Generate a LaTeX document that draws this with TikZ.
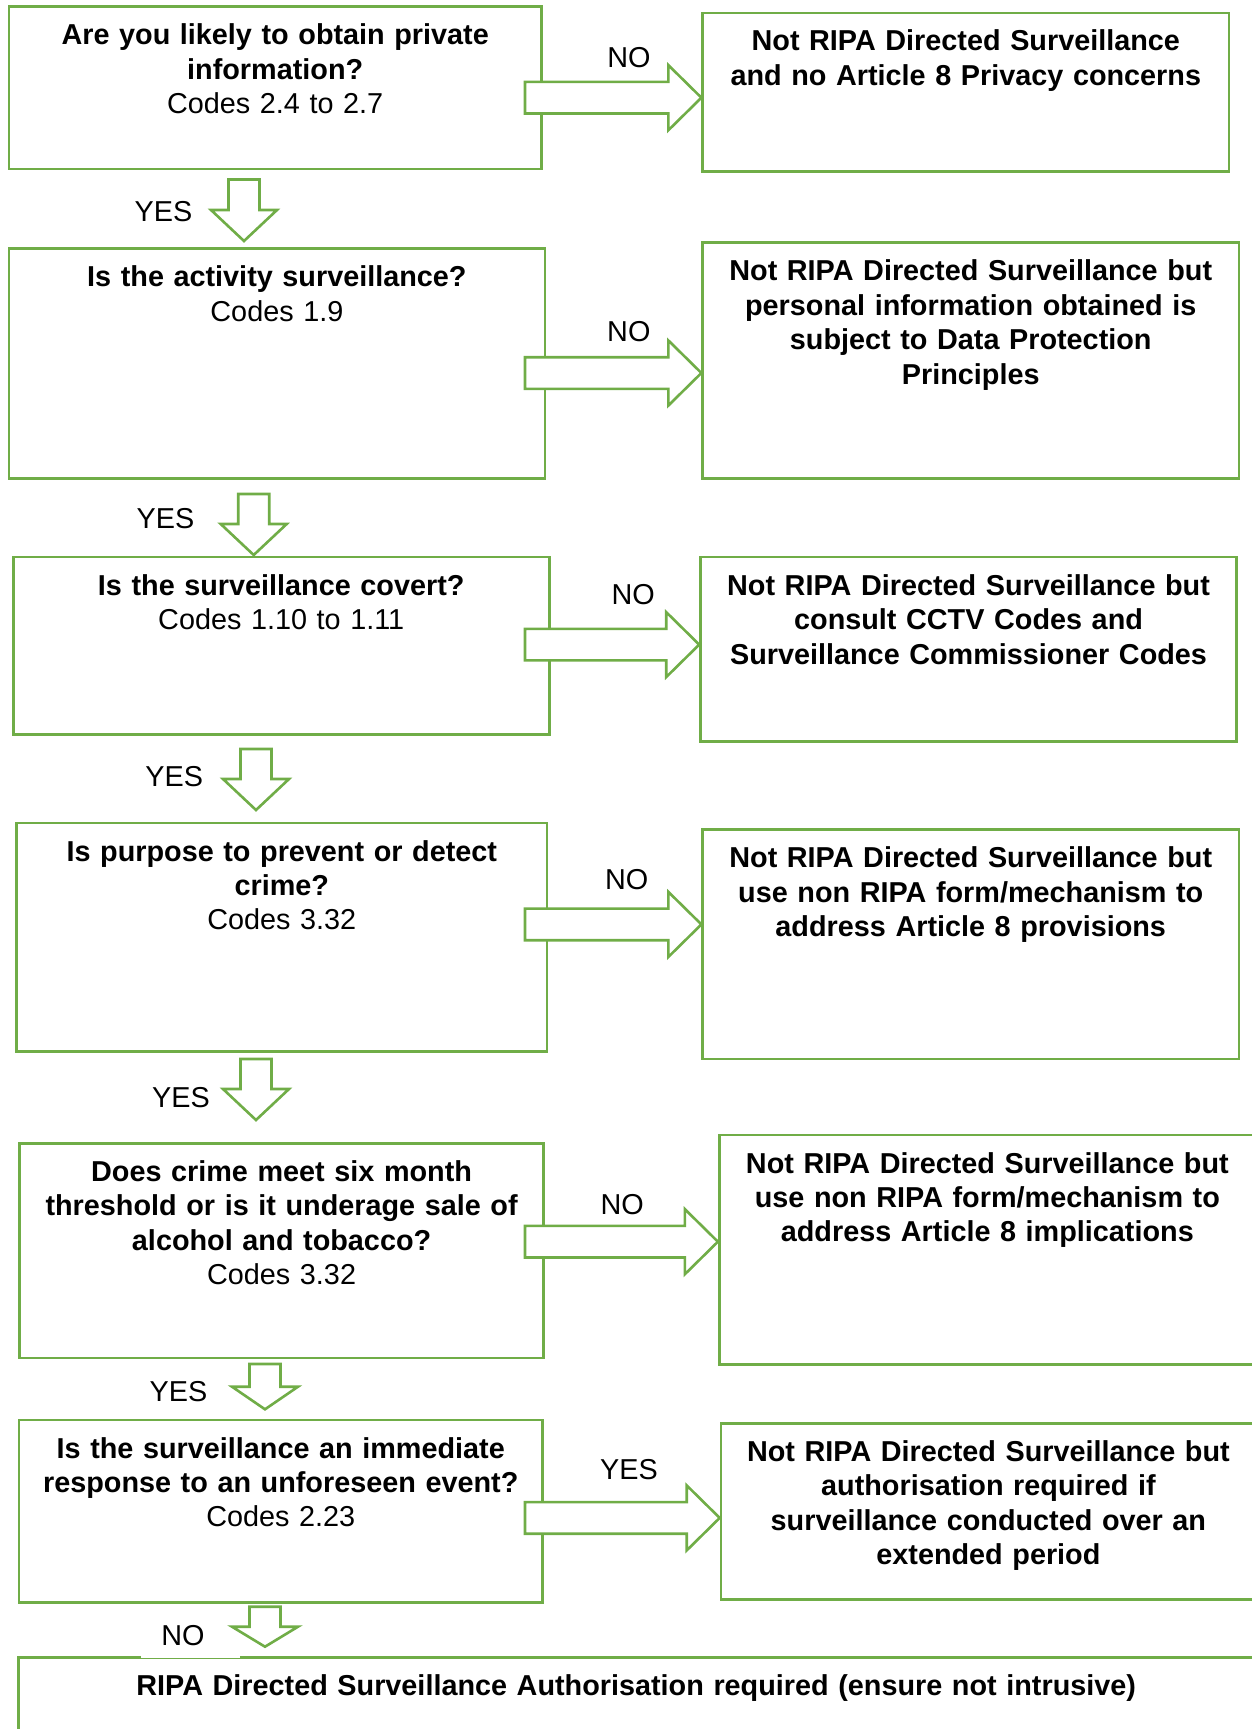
\documentclass[tikz,border=0pt]{standalone}
\usepackage{fontspec}
\setmainfont{Liberation Sans}
\usetikzlibrary{fit,calc}
\definecolor{grn}{RGB}{112,173,71}
\tikzset{
  box/.style={draw=grn, line width=1.3pt, inner sep=0pt, rectangle},
  txt/.style={anchor=north, align=center, inner sep=0pt, text width=600pt,
    font=\fontsize{14.4pt}{17.2pt}\selectfont, yshift=-7.5pt},
  lbl/.style={inner sep=0pt, font=\fontsize{14.4pt}{17.2pt}\selectfont},
  barrow/.style={draw=grn, line width=1.3pt, fill=white, line join=miter},
}
% horizontal block arrow: left node, right node, tip y (px); tail at x=525 px inside left node
\newcommand\harrow[3]{%
  \draw[barrow] let \p1=(#1.east -| 525,0), \p2=(#2.west), \p3=(0,#3) in
    (\x1,\y3+7.9pt) -- (\x2-16.5pt,\y3+7.9pt) -- (\x2-16.5pt,\y3+16.25pt) --
    (\x2,\y3) -- (\x2-16.5pt,\y3-16.25pt) -- (\x2-16.5pt,\y3-7.9pt) --
    (\x1,\y3-7.9pt) -- cycle;}
% vertical block arrow: centre x, top y, tip y, head length (px)
\newcommand\varrow[4]{%
  \draw[barrow] (#1-15.5,#2) -- (#1+15.5,#2) -- (#1+15.5,#3-#4) -- (#1+33,#3-#4) --
    (#1,#3) -- (#1-33,#3-#4) -- (#1-15.5,#3-#4) -- cycle;}
\begin{document}
\begin{tikzpicture}[x=0.5pt,y=-0.5pt]
\useasboundingbox (0,0) rectangle (1252,1729);
\clip (0,0) rectangle (1252,1729);

% boxes
\node[box, fit={(8.8,6.6) (541.6,168.8)}] (l1) {};
\node[box, fit={(702.7,12.8) (1228.9,171.3)}] (r1) {};
\node[box, fit={(8.8,248.5) (545,478.7)}] (l2) {};
\node[box, fit={(702.7,242.7) (1238.8,478.7)}] (r2) {};
\node[box, fit={(13.2,557.1) (549.3,734.7)}] (l3) {};
\node[box, fit={(700.5,557.1) (1236.6,741.3)}] (r3) {};
\node[box, fit={(16.5,822.9) (547.1,1051.3)}] (l4) {};
\node[box, fit={(702.7,829.5) (1238.8,1059)}] (r4) {};
\node[box, fit={(19.6,1143.3) (543.6,1358)}] (l5) {};
\node[box, fit={(719.2,1135) (1255.5,1364.7)}] (r5) {};
\node[box, fit={(18.8,1420) (542.7,1602.7)}] (l6) {};
\node[box, fit={(721,1423.3) (1255.8,1599.3)}] (r6) {};
\node[box, fit={(18.4,1657.7) (1254,1760)}] (b7) {};

% texts
\node[txt] (tl1) at (l1.north) {\strut\textbf{Are you likely to obtain private\\information?}\\Codes 2.4 to 2.7};
\node[txt] (tr1) at (r1.north) {\strut\textbf{Not RIPA Directed Surveillance\\and no Article 8 Privacy concerns}};
\node[txt] (tl2) at (l2.north) {\strut\textbf{Is the activity surveillance?}\\Codes 1.9};
\node[txt] (tr2) at (r2.north) {\strut\textbf{Not RIPA Directed Surveillance but\\personal information obtained is\\subject to Data Protection\\Principles}};
\node[txt] (tl3) at (l3.north) {\strut\textbf{Is the surveillance covert?}\\Codes 1.10 to 1.11};
\node[txt] (tr3) at (r3.north) {\strut\textbf{Not RIPA Directed Surveillance but\\consult CCTV Codes and\\Surveillance Commissioner Codes}};
\node[txt] (tl4) at (l4.north) {\strut\textbf{Is purpose to prevent or detect\\crime?}\\Codes 3.32};
\node[txt] (tr4) at (r4.north) {\strut\textbf{Not RIPA Directed Surveillance but\\use non RIPA form/mechanism to\\address Article 8 provisions}};
\node[txt] (tl5) at (l5.north) {\strut\textbf{Does crime meet six month\\threshold or is it underage sale of\\alcohol and tobacco?}\\Codes 3.32};
\node[txt] (tr5) at (r5.north) {\strut\textbf{Not RIPA Directed Surveillance but\\use non RIPA form/mechanism to\\address Article 8 implications}};
\node[txt] (tl6) at (l6.north) {\strut\textbf{Is the surveillance an immediate\\response to an unforeseen event?}\\Codes 2.23};
\node[txt] (tr6) at (r6.north) {\strut\textbf{Not RIPA Directed Surveillance but\\authorisation required if\\surveillance conducted over an\\extended period}};
\node[txt] (tb7) at (b7.north) {\strut\textbf{RIPA Directed Surveillance Authorisation required (ensure not intrusive)}};

% horizontal arrows
\harrow{l1}{r1}{97.7}
\harrow{l2}{r2}{373}
\harrow{l3}{r3}{644.6}
\harrow{l4}{r4}{924.4}
\harrow{l5}{r5}{1241.7}
\harrow{l6}{r6}{1517.9}

% labels
\node[lbl] (n1) at (629,58) {NO};
\node[lbl] (n2) at (628.8,332) {NO};
\node[lbl] (n3) at (633.2,594.6) {NO};
\node[lbl] (n4) at (626.6,879.2) {NO};
\node[lbl] (n5) at (622.2,1204.6) {NO};
\node[lbl] (y6) at (629,1469.5) {YES};
\node[lbl] (y1) at (163.5,211.7) {YES};
\node[lbl] (y2) at (165.5,518.5) {YES};
\node[lbl] (y3) at (174.3,776.6) {YES};
\node[lbl] (y4) at (180.9,1097.6) {YES};
\node[lbl] (y5) at (178.5,1391.7) {YES};
\node[lbl, fill=white, anchor=west, text width=49.5pt, align=left, inner ysep=6pt] (n7) at (141,1636) {\hspace*{10pt}NO};

% vertical arrows
\varrow{244}{179.5}{241}{31}
\varrow{253.7}{494}{555}{31}
\varrow{256}{749}{810}{31}
\varrow{256}{1059}{1120}{31}
\varrow{265}{1364}{1409.3}{22.6}
\varrow{265}{1606.7}{1646.7}{20}
\end{tikzpicture}
\end{document}
